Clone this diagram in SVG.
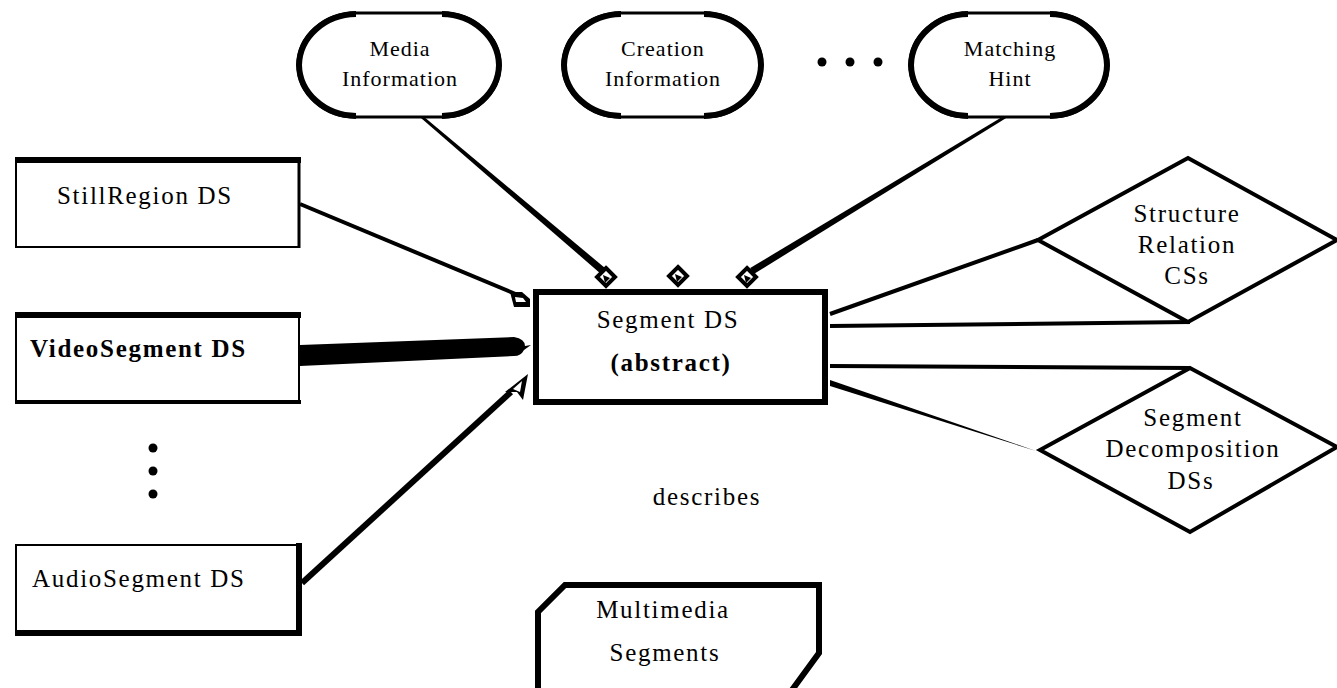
<svg xmlns="http://www.w3.org/2000/svg" width="1337" height="688" viewBox="0 0 1337 688">
<style>
text{font-family:"Liberation Serif","Times New Roman",serif;font-size:25px;fill:#000;letter-spacing:1.7px}
.o{font-size:22px;letter-spacing:1px}
.c{text-anchor:middle}
.b{font-weight:bold}
.oval{fill:#fff;stroke:#000;stroke-width:3}
.side{fill:none;stroke:#000;stroke-width:6}
.box{fill:#fff;stroke:#000;stroke-width:2}
.edge{stroke:#000;stroke-width:4;fill:none}
.dia{fill:#fff;stroke:#000;stroke-width:4;stroke-linejoin:miter}
</style>
<defs>
<g id="dhead"><polygon points="0,-9 9,0 0,9 -9,0" fill="#fff" stroke="#000" stroke-width="4"/><polygon points="-3,-2 4,1 -1,6" fill="#000"/></g>
</defs>
<g id="connectors">
<polygon points="421,118.1 423,115.9 605.3,268.3 600.7,273.7" fill="#000"/>
<polygon points="1004.2,115.7 1005.8,118.3 753.8,274 750.2,268" fill="#000"/>
<line class="edge" x1="300" y1="204" x2="518" y2="295"/>
<path d="M300,345 L514,337 Q525,339 525,346 L531,345 L524,350 Q521,356 514,356 L300,366 Q291,366 291,356 Q291,346 300,345 Z" fill="#000"/>
<line x1="302" y1="583" x2="511" y2="392" stroke="#000" stroke-width="6"/>
<line class="edge" x1="830" y1="314" x2="1038" y2="240"/>
<line class="edge" x1="830" y1="326" x2="1190" y2="322"/>
<line class="edge" x1="830" y1="366" x2="1190" y2="368"/>
<polygon points="830,380 830,386 1036,451" fill="#000"/>
<use href="#dhead" x="606" y="277"/>
<use href="#dhead" x="678" y="276"/>
<use href="#dhead" x="747" y="277"/>
<polygon points="510,292 522,292 530,299 530,307 514,307" fill="#000"/>
<polygon points="515,297 523,298 526,302 516,302" fill="#fff"/>
<polygon points="505,392 528,374 523,400 517,392" fill="#000"/>
<polygon points="513,389 522,381 520,392" fill="#fff"/>
</g>
<g id="media-information">
<path class="oval" d="M356,13 L442,13 A58,52 0 0 1 500,65 A58,52 0 0 1 442,117 L356,117 A58,52 0 0 1 298,65 A58,52 0 0 1 356,13 Z"/>
<path class="side" d="M442,14 A58,52 0 0 1 499,65 A58,52 0 0 1 442,116 M356,116 A58,52 0 0 1 299,65 A58,52 0 0 1 356,14"/>
<text class="c o" x="400" y="56">Media</text>
<text class="c o" x="400" y="86">Information</text>
</g>
<g id="creation-information">
<path class="oval" d="M621,13 L704,13 A58,52 0 0 1 762,65 A58,52 0 0 1 704,117 L621,117 A58,52 0 0 1 563,65 A58,52 0 0 1 621,13 Z"/>
<path class="side" d="M704,14 A58,52 0 0 1 761,65 A58,52 0 0 1 704,116 M621,116 A58,52 0 0 1 564,65 A58,52 0 0 1 621,14"/>
<text class="c o" x="663" y="56">Creation</text>
<text class="c o" x="663" y="86">Information</text>
</g>
<g id="ellipsis-top">
<circle cx="822" cy="62" r="4.5"/>
<circle cx="850" cy="62" r="4.5"/>
<circle cx="878" cy="62" r="4.5"/>
</g>
<g id="matching-hint">
<path class="oval" d="M968,13 L1050,13 A58,52 0 0 1 1108,65 A58,52 0 0 1 1050,117 L968,117 A58,52 0 0 1 910,65 A58,52 0 0 1 968,13 Z"/>
<path class="side" d="M1050,14 A58,52 0 0 1 1107,65 A58,52 0 0 1 1050,116 M968,116 A58,52 0 0 1 911,65 A58,52 0 0 1 968,14"/>
<text class="c o" x="1010" y="56">Matching</text>
<text class="c o" x="1010" y="86">Hint</text>
</g>
<g id="stillregion-ds">
<rect class="box" x="16" y="160" width="283" height="87"/>
<line x1="15" y1="160" x2="301" y2="160" stroke="#000" stroke-width="6"/>
<line x1="299" y1="158" x2="299" y2="248" stroke="#000" stroke-width="3"/>
<text x="57" y="204">StillRegion DS</text>
</g>
<g id="videosegment-ds">
<rect class="box" x="16" y="315" width="283" height="87"/>
<line x1="15" y1="315" x2="301" y2="315" stroke="#000" stroke-width="6"/>
<line x1="15" y1="402" x2="301" y2="402" stroke="#000" stroke-width="4"/>
<text class="b" x="30" y="357">VideoSegment DS</text>
</g>
<g id="ellipsis-left">
<circle cx="153" cy="448" r="4.5"/>
<circle cx="153" cy="471" r="4.5"/>
<circle cx="153" cy="494" r="4.5"/>
</g>
<g id="audiosegment-ds">
<rect class="box" x="16" y="545" width="283" height="88"/>
<line x1="15" y1="633" x2="302" y2="633" stroke="#000" stroke-width="6"/>
<line x1="299" y1="543" x2="299" y2="636" stroke="#000" stroke-width="6"/>
<text x="32" y="587">AudioSegment DS</text>
</g>
<g id="segment-ds">
<rect x="536" y="292" width="289" height="110" fill="#fff" stroke="#000" stroke-width="6"/>
<text class="c" x="668" y="328">Segment DS</text>
<text class="c b" x="671" y="371">(abstract)</text>
</g>
<g id="structure-relation-css">
<polygon class="dia" points="1038,240 1188,158 1337,240 1188,322"/>
<text class="c" x="1187" y="222">Structure</text>
<text class="c" x="1187" y="253">Relation</text>
<text class="c" x="1187" y="284">CSs</text>
</g>
<g id="segment-decomposition-dss">
<polygon class="dia" points="1040,450 1190,368 1337,447 1190,532"/>
<text class="c" x="1193" y="426">Segment</text>
<text class="c" x="1193" y="457">Decomposition</text>
<text class="c" x="1191" y="489">DSs</text>
</g>
<g id="describes-label">
<text class="c" x="707" y="505">describes</text>
</g>
<g id="multimedia-segments">
<path d="M538,690 L538,612 L565,585 L819,585 L819,653 L792,690" fill="#fff" stroke="#000" stroke-width="6"/>
<text class="c" x="663" y="618">Multimedia</text>
<text class="c" x="665" y="661">Segments</text>
</g>
</svg>
